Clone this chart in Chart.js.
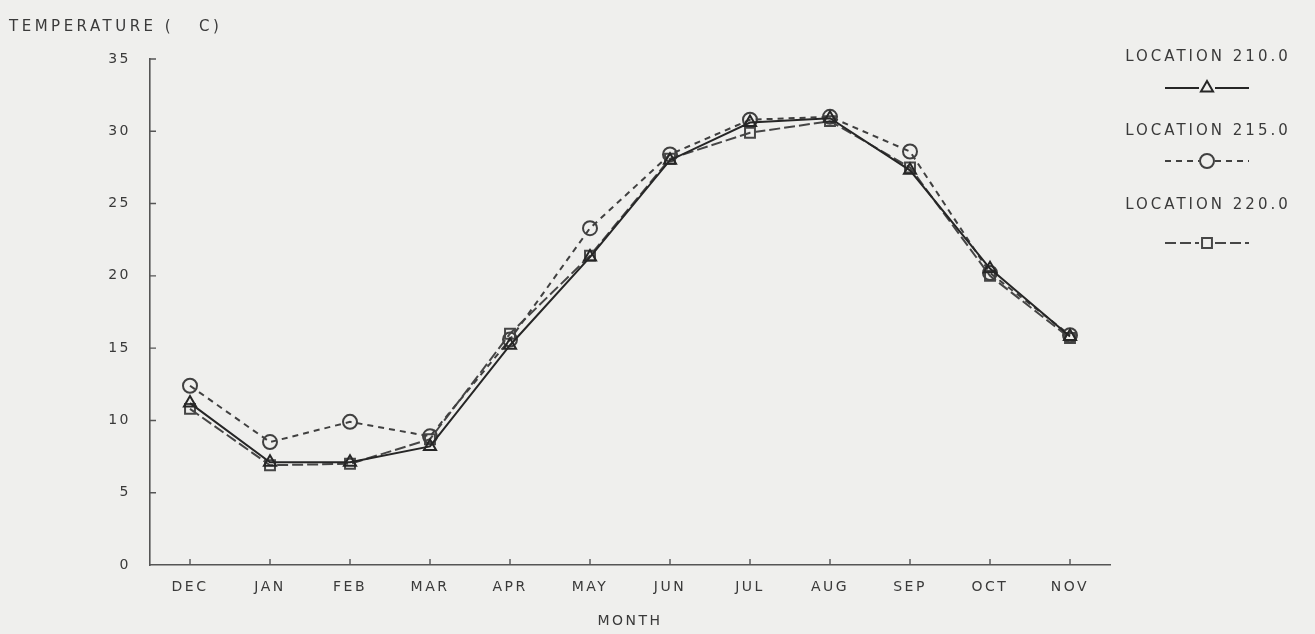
<!DOCTYPE html>
<html>
<head>
<meta charset="utf-8">
<script src="https://cdn.jsdelivr.net/npm/chart.js@4.4.0/dist/chart.umd.min.js"></script>
<style>
  html, body { margin: 0; padding: 0; background: #efefed; }
  #wrap { width: 1315px; height: 634px; }
</style>
</head>
<body>
<div id="wrap"><canvas id="c" width="1315" height="634"></canvas></div>
<script>
// Monthly mean water temperature at three sampling locations
const months = ['DEC', 'JAN', 'FEB', 'MAR', 'APR', 'MAY', 'JUN', 'JUL', 'AUG', 'SEP', 'OCT', 'NOV'];
const loc210 = [11.2, 7.1, 7.1, 8.2, 15.2, 21.3, 28.0, 30.6, 30.9, 27.3, 20.5, 15.8];
const loc215 = [12.4, 8.5, 9.9, 8.9, 15.6, 23.3, 28.4, 30.8, 31.0, 28.6, 20.2, 15.9];
const loc220 = [10.8, 6.9, 7.0, 8.7, 16.0, 21.4, 28.1, 29.9, 30.7, 27.5, 20.0, 15.7];
const seriesNames = ['LOCATION 210.0', 'LOCATION 215.0', 'LOCATION 220.0'];
const yTicks = [0, 5, 10, 15, 20, 25, 30, 35];

const BG = '#efefed';
const TEXT = '#3a3a3a';
const FONT = '"DejaVu Sans", sans-serif';
const SPACING = 2.5;

function series(label, data, style, dash, color) {
  return {
    label, data,
    borderColor: color, borderWidth: 2, borderDash: dash,
    pointStyle: style, pointRadius: 7, pointHoverRadius: 7,
    pointBorderColor: color, pointBorderWidth: 2,
    pointBackgroundColor: 'rgba(0,0,0,0)',
    tension: 0, fill: false
  };
}

const datasets = [
  series(seriesNames[0], loc210, 'triangle', [], '#262626'),
  series(seriesNames[1], loc215, 'circle', [6, 5], '#404040'),
  series(seriesNames[2], loc220, 'rect', [11, 4], '#464646')
];

// Spaced plotter-style lettering, page background, inward tick marks, caption and legend
const plotterLook = {
  id: 'plotterLook',
  beforeLayout(chart) { chart.ctx.letterSpacing = SPACING + 'px'; },
  beforeDraw(chart) {
    const ctx = chart.ctx;
    ctx.save();
    ctx.fillStyle = BG;
    ctx.fillRect(0, 0, chart.width, chart.height);
    ctx.restore();
    ctx.letterSpacing = SPACING + 'px';
  },
  afterDraw(chart) {
    const ctx = chart.ctx;
    const xs = chart.scales.x, ys = chart.scales.y;
    ctx.save();
    ctx.strokeStyle = '#555';
    ctx.lineWidth = 1.4;
    ctx.beginPath();
    yTicks.forEach(v => {
      if (v === 0) return;
      const py = ys.getPixelForValue(v);
      ctx.moveTo(xs.left, py);
      ctx.lineTo(xs.left + 6, py);
    });
    months.forEach((m, i) => {
      const px = xs.getPixelForValue(i);
      ctx.moveTo(px, ys.bottom);
      ctx.lineTo(px, ys.bottom - 6);
    });
    ctx.stroke();

    // axis caption at top left
    ctx.fillStyle = TEXT;
    ctx.font = '15px ' + FONT;
    ctx.letterSpacing = '3.5px';
    ctx.textAlign = 'left';
    ctx.textBaseline = 'middle';
    ctx.fillText('TEMPERATURE (   C)', 9, 27);

    // legend stacked in the right margin
    const cx = 1207;
    const rows = [{ t: 57, m: 88 }, { t: 131, m: 161 }, { t: 205, m: 243 }];
    ctx.font = '15px ' + FONT;
    ctx.letterSpacing = '3px';
    ctx.textAlign = 'center';
    chart.data.datasets.forEach((ds, i) => {
      const r = rows[i];
      ctx.fillStyle = TEXT;
      ctx.fillText(ds.label, cx + 1, r.t);
      ctx.strokeStyle = ds.borderColor;
      ctx.lineWidth = ds.borderWidth;
      ctx.setLineDash(ds.borderDash);
      ctx.beginPath();
      ctx.moveTo(cx - 42, r.m);
      ctx.lineTo(cx - 8, r.m);
      ctx.moveTo(cx + 8, r.m);
      ctx.lineTo(cx + 42, r.m);
      ctx.stroke();
      ctx.setLineDash([]);
      ctx.fillStyle = BG;
      Chart.helpers.drawPoint(ctx, {
        pointStyle: ds.pointStyle, radius: ds.pointRadius,
        borderWidth: ds.pointBorderWidth, rotation: 0
      }, cx, r.m);
    });
    ctx.restore();
  }
};

new Chart(document.getElementById('c'), {
  type: 'line',
  data: { labels: months, datasets },
  plugins: [plotterLook],
  options: {
    responsive: false,
    animation: false,
    events: [],
    layout: { padding: { left: 0, right: 205, top: 59, bottom: 0 } },
    plugins: { legend: { display: false }, tooltip: { enabled: false } },
    scales: {
      x: {
        offset: true,
        grid: { display: false, drawTicks: false },
        border: { display: true, color: '#555', width: 1.6 },
        ticks: { color: TEXT, font: { family: FONT, size: 14 }, padding: 14, maxRotation: 0, autoSkip: false },
        title: { display: true, text: 'MONTH', color: TEXT, font: { family: FONT, size: 14 }, padding: { top: 0, bottom: 4 } },
        afterFit(scale) { scale.height = 69; }
      },
      y: {
        min: 0, max: 35,
        afterBuildTicks(scale) { scale.ticks = yTicks.map(v => ({ value: v })); },
        grid: { display: false, drawTicks: false },
        border: { display: true, color: '#555', width: 1.6 },
        ticks: { color: TEXT, font: { family: FONT, size: 14 }, padding: 19 },
        afterFit(scale) { scale.width = 150; }
      }
    }
  }
});
</script>
</body>
</html>
